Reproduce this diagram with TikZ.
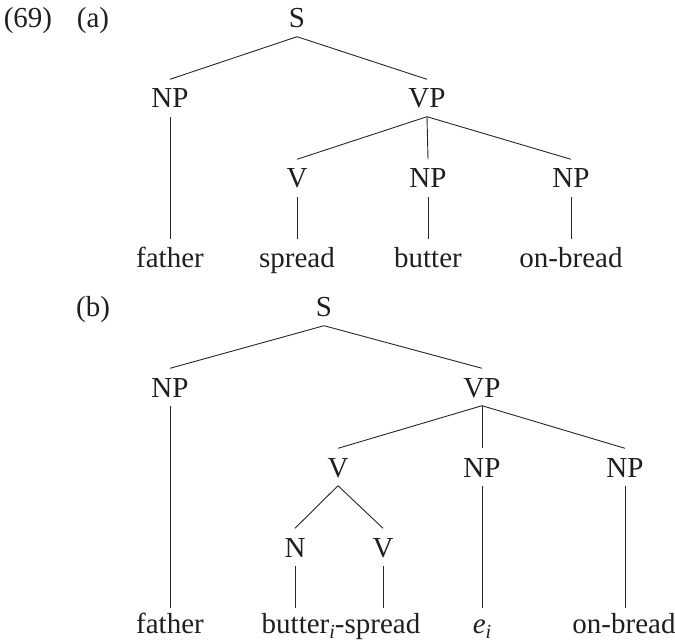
\documentclass[tikz,border=0pt]{standalone}
\usepackage{fontspec}
\setmainfont{Liberation Serif}
\newcommand\subidx{\raisebox{-0.2em}{\fontsize{20}{20}\selectfont\itshape i}}
\begin{document}
\begin{tikzpicture}[x=1pt,y=-1pt,
  lbl/.style={font=\fontsize{29}{34}\selectfont, anchor=base, text height=20pt, text depth=0pt, inner xsep=0pt, inner ysep=8.5pt, text=black!88},
  lowleaf/.style={lbl, text height=16.5pt},
  edge/.style={line width=0.9pt, draw=black!85}]
\useasboundingbox (0,0) rectangle (675,644);
% labels
\node[lbl] (n69) at (28,28) {(69)};
\node[lbl] (la) at (93,28) {(a)};
\node[lbl] (lb) at (93,317) {(b)};
% tree (a)
\node[lbl] (aS) at (297,28) {S};
\node[lbl] (aNP) at (170,108) {NP};
\node[lbl] (aVP) at (427,108) {VP};
\node[lbl] (aV) at (297,188) {V};
\node[lbl] (aNPb) at (428,188) {NP};
\node[lbl] (aNPc) at (571,188) {NP};
\node[lbl] (afather) at (170,268) {father};
\node[lbl] (aspread) at (297,268) {spread};
\node[lbl] (abutter) at (428,268) {butter};
\node[lbl] (aon) at (571,268) {on-bread};
\draw[edge] (aS.south) -- (aNP.north);
\draw[edge] (aS.south) -- (aVP.north);
\draw[edge] (aNP.south) -- (afather.north);
\draw[edge] (aVP.south) -- (aV.north);
\draw[edge] (aVP.south) -- (aNPb.north);
\draw[edge] (aVP.south) -- (aNPc.north);
\draw[edge] (aV.south) -- (aspread.north);
\draw[edge] (aNPb.south) -- (abutter.north);
\draw[edge] (aNPc.south) -- (aon.north);
% tree (b)
\node[lbl] (bS) at (324,317) {S};
\node[lbl] (bNP) at (170,397) {NP};
\node[lbl] (bVP) at (482,397) {VP};
\node[lbl] (bV) at (338,477) {V};
\node[lbl] (bNPb) at (482,477) {NP};
\node[lbl] (bNPc) at (625,477) {NP};
\node[lbl] (bN) at (295,557) {N};
\node[lbl] (bVb) at (383,557) {V};
\node[lowleaf] (bfather) at (170,633) {father};
\node[lowleaf] (bbs) at (341,633) {butter\subidx-spread};
\node[lowleaf] (bei) at (482,633) {\textit{e}\subidx};
\node[lowleaf] (bon) at (624,633) {on-bread};
\draw[edge] (bS.south) -- (bNP.north);
\draw[edge] (bS.south) -- (bVP.north);
\draw[edge] (bNP.south) -- (bfather.north);
\draw[edge] (bVP.south) -- (bV.north);
\draw[edge] (bVP.south) -- (bNPb.north);
\draw[edge] (bVP.south) -- (bNPc.north);
\draw[edge] (bV.south) -- (bN.north);
\draw[edge] (bV.south) -- (bVb.north);
\draw[edge] (bN.south) -- (bN.south |- bbs.north);
\draw[edge] (bVb.south) -- (bVb.south |- bbs.north);
\draw[edge] (bNPb.south) -- (bNPb.south |- bei.north);
\draw[edge] (bNPc.south) -- (bNPc.south |- bon.north);
\end{tikzpicture}
\end{document}
